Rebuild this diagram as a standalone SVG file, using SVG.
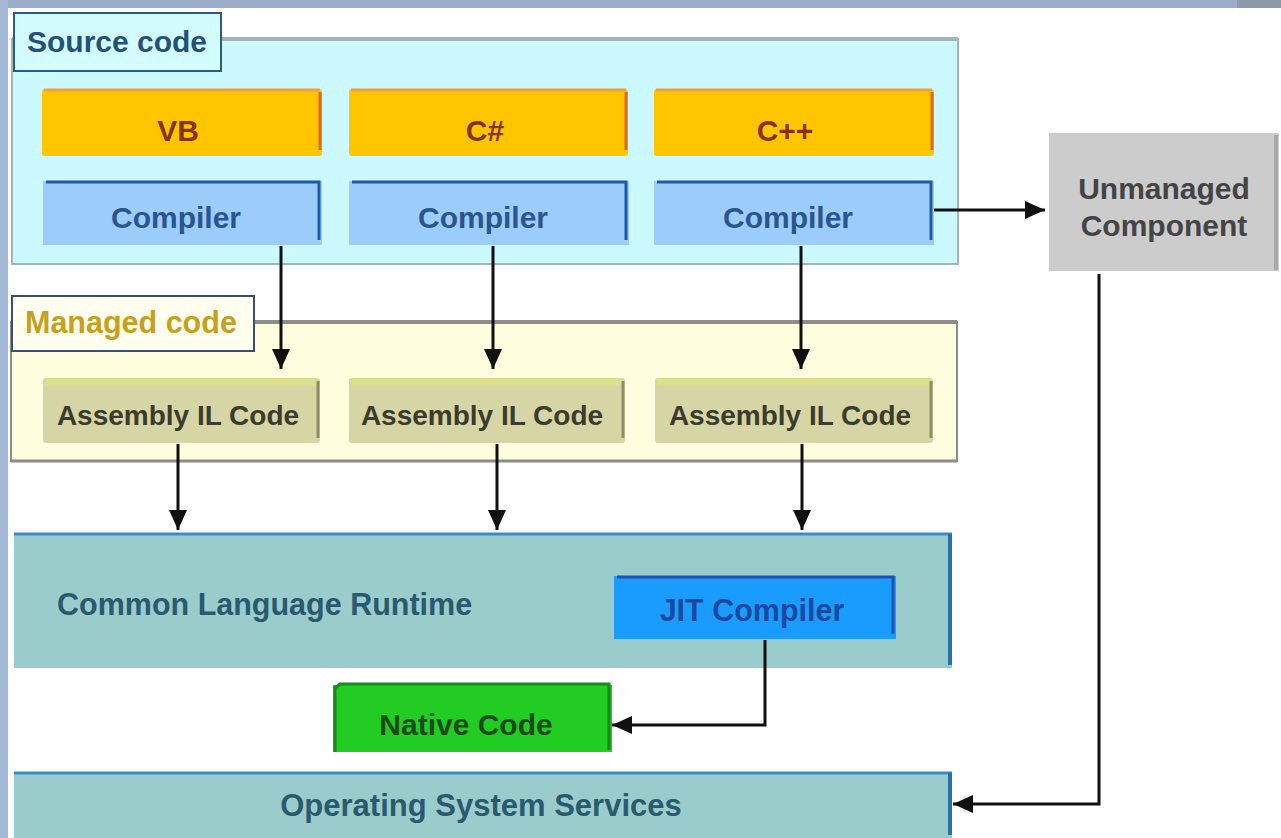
<svg xmlns="http://www.w3.org/2000/svg" width="1281" height="838" viewBox="0 0 1281 838">
<defs>
<marker id="arr" viewBox="0 0 20 20" refX="20" refY="10" markerWidth="20" markerHeight="20" markerUnits="userSpaceOnUse" orient="auto">
<path d="M0,1 L20,10 L0,19 Z" fill="#111"/>
</marker>
</defs>
<style>
text{font-family:"Liberation Sans",Arial,sans-serif;font-weight:bold;}
.t{font-size:30px;text-anchor:middle;}
.lang{fill:#ffc600;}
.langTop{stroke:#f0a23a;stroke-width:3;}
.langR{stroke:#e06818;stroke-width:3;}
.langT{fill:#8a3300;}
.comp{fill:#9cccfa;}
.compB{stroke:#1f5aa8;stroke-width:3;fill:none;}
.compT{fill:#2a5590;}
.asm{fill:#d5d5a6;}
.asmTop{fill:#d9df8a;}
.asmR{stroke:#8e8e66;stroke-width:3;}
.asmT{fill:#3c3c2c;font-size:28px;}
.run{fill:#9acccc;}
.runTop{stroke:#3a8cc8;stroke-width:3;}
.runR{stroke:#2a70a8;stroke-width:4;}
.runT{fill:#2a5a6e;}
.conn{stroke:#111;stroke-width:3;fill:none;marker-end:url(#arr);}
</style>
<!-- background -->
<rect x="0" y="0" width="1281" height="838" fill="#ffffff"/>
<rect x="0" y="0" width="1281" height="8" fill="#9aacc8"/>
<rect x="1237" y="0" width="44" height="8" fill="#8d99a8"/>
<rect x="0" y="0" width="8" height="838" fill="#a4b8d8"/>

<!-- Source code container -->
<g id="source-code">
<rect x="12" y="39" width="946" height="225" fill="#cbf9ff" stroke="#a8b4bc" stroke-width="2"/>
<line x1="12" y1="39" x2="958" y2="39" stroke="#a0b4bc" stroke-width="4"/>
<rect x="14" y="13" width="207" height="58" fill="#d2fcff" stroke="#2c5a80" stroke-width="2"/>
<text x="27" y="52" style="font-size:30px" fill="#24507a">Source code</text>
</g>

<g id="vb">
<rect class="lang" x="42" y="89" width="280" height="67" rx="3"/>
<line class="langTop" x1="44" y1="90" x2="320" y2="90"/>
<line class="langR" x1="320" y1="92" x2="320" y2="150"/>
<text class="t langT" x="178" y="141">VB</text>
</g>
<g id="csharp">
<rect class="lang" x="349" y="89" width="279" height="67" rx="3"/>
<line class="langTop" x1="351" y1="90" x2="626" y2="90"/>
<line class="langR" x1="626" y1="92" x2="626" y2="150"/>
<text class="t langT" x="485" y="141">C#</text>
</g>
<g id="cpp">
<rect class="lang" x="654" y="89" width="280" height="67" rx="3"/>
<line class="langTop" x1="656" y1="90" x2="932" y2="90"/>
<line class="langR" x1="932" y1="92" x2="932" y2="150"/>
<text class="t langT" x="785" y="141">C++</text>
</g>

<g id="compiler-vb">
<rect class="comp" x="43" y="181" width="279" height="64"/>
<path class="compB" d="M46,182 H319 V240"/>
<text class="t compT" x="176" y="228">Compiler</text>
</g>
<g id="compiler-cs">
<rect class="comp" x="349" y="181" width="280" height="64"/>
<path class="compB" d="M352,182 H626 V240"/>
<text class="t compT" x="483" y="228">Compiler</text>
</g>
<g id="compiler-cpp">
<rect class="comp" x="654" y="181" width="280" height="64"/>
<path class="compB" d="M657,182 H931 V240"/>
<text class="t compT" x="788" y="228">Compiler</text>
</g>

<!-- Managed code container -->
<g id="managed-code">
<rect x="11" y="322" width="946" height="139" fill="#ffffdf" stroke="#8c8c8c" stroke-width="2"/>
<line x1="11" y1="322" x2="957" y2="322" stroke="#8c8c8c" stroke-width="4"/>
<line x1="11" y1="461" x2="957" y2="461" stroke="#8c8c8c" stroke-width="3"/>
<rect x="12" y="296" width="242" height="55" fill="#fffff0" stroke="#3a5070" stroke-width="2"/>
<text x="25" y="333" style="font-size:30.5px" fill="#c8a020">Managed code</text>
</g>

<g id="asm-1">
<rect class="asm" x="43" y="378" width="277" height="65" rx="3"/>
<rect class="asmTop" x="45" y="378" width="273" height="8"/>
<line class="asmR" x1="318" y1="381" x2="318" y2="438"/>
<text class="t asmT" x="178" y="425">Assembly IL Code</text>
</g>
<g id="asm-2">
<rect class="asm" x="349" y="378" width="276" height="65" rx="3"/>
<rect class="asmTop" x="351" y="378" width="272" height="8"/>
<line class="asmR" x1="623" y1="381" x2="623" y2="438"/>
<text class="t asmT" x="482" y="425">Assembly IL Code</text>
</g>
<g id="asm-3">
<rect class="asm" x="655" y="378" width="278" height="65" rx="3"/>
<rect class="asmTop" x="657" y="378" width="274" height="8"/>
<line class="asmR" x1="931" y1="381" x2="931" y2="438"/>
<text class="t asmT" x="790" y="425">Assembly IL Code</text>
</g>

<!-- CLR -->
<g id="clr">
<rect class="run" x="14" y="533" width="938" height="135"/>
<line class="runTop" x1="14" y1="534" x2="952" y2="534"/>
<line class="runR" x1="950" y1="534" x2="950" y2="665"/>
<text class="runT" x="57" y="615" style="font-size:30.5px">Common Language Runtime</text>
</g>
<g id="jit">
<rect x="614" y="576" width="282" height="63" fill="#1a9cff"/>
<path d="M617,577 H893 V634" stroke="#2050b0" stroke-width="3" fill="none"/>
<text class="t" x="752" y="621" fill="#1a4aa0" style="font-size:30.5px">JIT Compiler</text>
</g>
<g id="native-code">
<rect x="333" y="685" width="279" height="67" fill="#22cc22"/>
<path d="M335,752 V688 L340,684 H609 V750" stroke="#178a17" stroke-width="3" fill="none"/>
<text class="t" x="466" y="735" fill="#1a4a1a">Native Code</text>
</g>
<g id="os-services">
<rect class="run" x="14" y="772" width="938" height="66"/>
<line class="runTop" x1="14" y1="773" x2="952" y2="773"/>
<line class="runR" x1="950" y1="773" x2="950" y2="835"/>
<text class="t runT" x="481" y="816" style="font-size:31px">Operating System Services</text>
</g>
<g id="unmanaged">
<rect x="1049" y="133" width="230" height="138" fill="#cccccc"/>
<line x1="1276" y1="135" x2="1276" y2="270" stroke="#a8a8a8" stroke-width="4"/>
<text class="t" x="1164" y="199" fill="#444444">Unmanaged</text>
<text class="t" x="1164" y="236" fill="#444444">Component</text>
</g>

<!-- connectors -->
<g id="connectors">
<path class="conn" d="M281,246 V369"/>
<path class="conn" d="M493,246 V369"/>
<path class="conn" d="M801,246 V369"/>
<path class="conn" d="M178,444 V530"/>
<path class="conn" d="M497,444 V530"/>
<path class="conn" d="M802,444 V530"/>
<path class="conn" d="M934,210 H1045"/>
<path class="conn" d="M765,640 V725 H612"/>
<path class="conn" d="M1099,274 V804 H953"/>
</g>
</svg>
